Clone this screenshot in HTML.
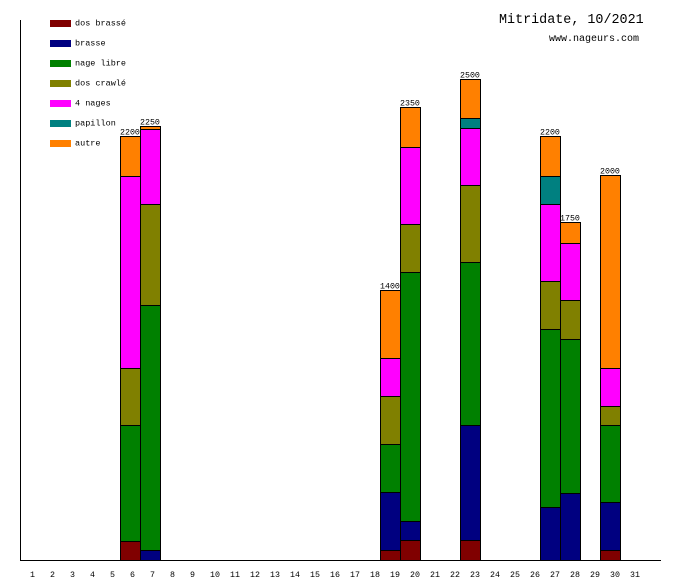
<!DOCTYPE html>
<html><head><meta charset="utf-8"><style>
html,body{margin:0;padding:0;background:#fff;}
svg{display:block;}
text{font-family:"Liberation Mono","DejaVu Sans Mono",monospace;fill:#000;}
.l{font-size:8.5px;}
.v{font-size:8.3px;}
.d{font-size:8.3px;}
</style></head><body>
<svg width="680" height="580" viewBox="0 0 680 580" xmlns="http://www.w3.org/2000/svg">
<rect width="680" height="580" fill="#fff"/>
<!-- title -->
<text x="499" y="23" style="font-size:13.4px">Mitridate, 10/2021</text>
<text x="549" y="41" style="font-size:10px">www.nageurs.com</text>
<!-- legend -->
<g>
<rect x="50" y="20" width="21" height="7" fill="#800000"/><text class="l" x="75" y="25.5">dos brassé</text>
<rect x="50" y="40" width="21" height="7" fill="#000080"/><text class="l" x="75" y="45.5">brasse</text>
<rect x="50" y="60" width="21" height="7" fill="#008000"/><text class="l" x="75" y="65.5">nage libre</text>
<rect x="50" y="80" width="21" height="7" fill="#808000"/><text class="l" x="75" y="85.5">dos crawlé</text>
<rect x="50" y="100" width="21" height="7" fill="#ff00ff"/><text class="l" x="75" y="105.5">4 nages</text>
<rect x="50" y="120" width="21" height="7" fill="#008080"/><text class="l" x="75" y="125.5">papillon</text>
<rect x="50" y="140" width="21" height="7" fill="#ff8000"/><text class="l" x="75" y="145.5">autre</text>
</g>
<!-- bars -->
<g stroke="#000" stroke-width="1">
<!-- day 6 -->
<rect x="120.5" y="541.5" width="20" height="19" fill="#800000"/>
<rect x="120.5" y="425.5" width="20" height="116" fill="#008000"/>
<rect x="120.5" y="368.5" width="20" height="57" fill="#808000"/>
<rect x="120.5" y="176.5" width="20" height="192" fill="#ff00ff"/>
<rect x="120.5" y="136.5" width="20" height="40" fill="#ff8000"/>
<!-- day 7 -->
<rect x="140.5" y="550.5" width="20" height="10" fill="#000080"/>
<rect x="140.5" y="305.5" width="20" height="245" fill="#008000"/>
<rect x="140.5" y="204.5" width="20" height="101" fill="#808000"/>
<rect x="140.5" y="129.5" width="20" height="75" fill="#ff00ff"/>
<rect x="140.5" y="126.5" width="20" height="3" fill="#ff8000"/>
<!-- day 19 -->
<rect x="380.5" y="550.5" width="20" height="10" fill="#800000"/>
<rect x="380.5" y="492.5" width="20" height="58" fill="#000080"/>
<rect x="380.5" y="444.5" width="20" height="48" fill="#008000"/>
<rect x="380.5" y="396.5" width="20" height="48" fill="#808000"/>
<rect x="380.5" y="358.5" width="20" height="38" fill="#ff00ff"/>
<rect x="380.5" y="290.5" width="20" height="68" fill="#ff8000"/>
<!-- day 20 -->
<rect x="400.5" y="540.5" width="20" height="20" fill="#800000"/>
<rect x="400.5" y="521.5" width="20" height="19" fill="#000080"/>
<rect x="400.5" y="272.5" width="20" height="249" fill="#008000"/>
<rect x="400.5" y="224.5" width="20" height="48" fill="#808000"/>
<rect x="400.5" y="147.5" width="20" height="77" fill="#ff00ff"/>
<rect x="400.5" y="107.5" width="20" height="40" fill="#ff8000"/>
<!-- day 23 -->
<rect x="460.5" y="540.5" width="20" height="20" fill="#800000"/>
<rect x="460.5" y="425.5" width="20" height="115" fill="#000080"/>
<rect x="460.5" y="262.5" width="20" height="163" fill="#008000"/>
<rect x="460.5" y="185.5" width="20" height="77" fill="#808000"/>
<rect x="460.5" y="128.5" width="20" height="57" fill="#ff00ff"/>
<rect x="460.5" y="118.5" width="20" height="10" fill="#008080"/>
<rect x="460.5" y="79.5" width="20" height="39" fill="#ff8000"/>
<!-- day 27 -->
<rect x="540.5" y="507.5" width="20" height="53" fill="#000080"/>
<rect x="540.5" y="329.5" width="20" height="178" fill="#008000"/>
<rect x="540.5" y="281.5" width="20" height="48" fill="#808000"/>
<rect x="540.5" y="204.5" width="20" height="77" fill="#ff00ff"/>
<rect x="540.5" y="176.5" width="20" height="28" fill="#008080"/>
<rect x="540.5" y="136.5" width="20" height="40" fill="#ff8000"/>
<!-- day 28 -->
<rect x="560.5" y="493.5" width="20" height="67" fill="#000080"/>
<rect x="560.5" y="339.5" width="20" height="154" fill="#008000"/>
<rect x="560.5" y="300.5" width="20" height="39" fill="#808000"/>
<rect x="560.5" y="243.5" width="20" height="57" fill="#ff00ff"/>
<rect x="560.5" y="222.5" width="20" height="21" fill="#ff8000"/>
<!-- day 30 -->
<rect x="600.5" y="550.5" width="20" height="10" fill="#800000"/>
<rect x="600.5" y="502.5" width="20" height="48" fill="#000080"/>
<rect x="600.5" y="425.5" width="20" height="77" fill="#008000"/>
<rect x="600.5" y="406.5" width="20" height="19" fill="#808000"/>
<rect x="600.5" y="368.5" width="20" height="38" fill="#ff00ff"/>
<rect x="600.5" y="175.5" width="20" height="193" fill="#ff8000"/>
</g>
<!-- value labels -->
<text class="v" x="120" y="134.5">2200</text>
<text class="v" x="140" y="124.5">2250</text>
<text class="v" x="380" y="288.5">1400</text>
<text class="v" x="400" y="105.5">2350</text>
<text class="v" x="460" y="77.5">2500</text>
<text class="v" x="540" y="134.5">2200</text>
<text class="v" x="560" y="220.5">1750</text>
<text class="v" x="600" y="173.5">2000</text>
<!-- axes -->
<line x1="20.5" y1="20" x2="20.5" y2="561" stroke="#000" stroke-width="1"/>
<line x1="20" y1="560.5" x2="661" y2="560.5" stroke="#000" stroke-width="1"/>
<!-- day labels -->
<g class="d">
<text class="d" x="30" y="577">1</text>
<text class="d" x="50" y="577">2</text>
<text class="d" x="70" y="577">3</text>
<text class="d" x="90" y="577">4</text>
<text class="d" x="110" y="577">5</text>
<text class="d" x="130" y="577">6</text>
<text class="d" x="150" y="577">7</text>
<text class="d" x="170" y="577">8</text>
<text class="d" x="190" y="577">9</text>
<text class="d" x="210" y="577">10</text>
<text class="d" x="230" y="577">11</text>
<text class="d" x="250" y="577">12</text>
<text class="d" x="270" y="577">13</text>
<text class="d" x="290" y="577">14</text>
<text class="d" x="310" y="577">15</text>
<text class="d" x="330" y="577">16</text>
<text class="d" x="350" y="577">17</text>
<text class="d" x="370" y="577">18</text>
<text class="d" x="390" y="577">19</text>
<text class="d" x="410" y="577">20</text>
<text class="d" x="430" y="577">21</text>
<text class="d" x="450" y="577">22</text>
<text class="d" x="470" y="577">23</text>
<text class="d" x="490" y="577">24</text>
<text class="d" x="510" y="577">25</text>
<text class="d" x="530" y="577">26</text>
<text class="d" x="550" y="577">27</text>
<text class="d" x="570" y="577">28</text>
<text class="d" x="590" y="577">29</text>
<text class="d" x="610" y="577">30</text>
<text class="d" x="630" y="577">31</text>
</g>
</svg>
</body></html>
